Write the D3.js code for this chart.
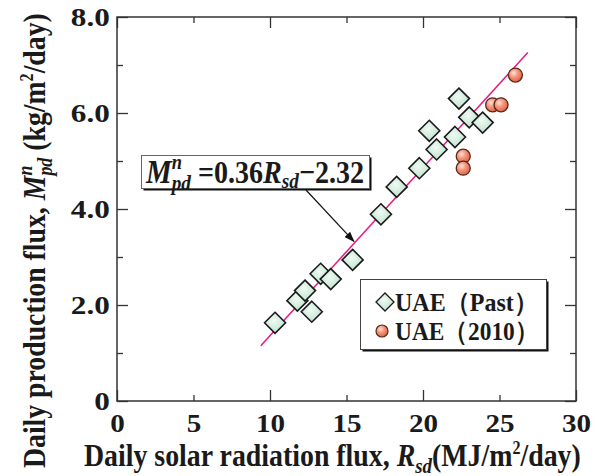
<!DOCTYPE html>
<html>
<head>
<meta charset="utf-8">
<script src="https://cdn.jsdelivr.net/npm/d3@7"></script>
<style>
  body { margin: 0; background: #fff; }
  text { font-family: "Liberation Serif", "Times New Roman", serif; font-weight: bold; fill: #1a1a1a; }
</style>
</head>
<body>
<script>
// past UAE observations (diamonds)
var pastRsd = [10.33, 11.79, 12.29, 12.73, 13.31, 13.97, 15.4, 17.25, 18.28, 19.76, 20.41, 20.89, 22.09, 22.35, 23.02, 23.9];
var pastMpd = [1.63, 2.09, 2.30, 1.86, 2.65, 2.54, 2.94, 3.89, 4.46, 4.85, 5.63, 5.24, 5.50, 6.30, 5.91, 5.80];
// UAE 2010 (circles)
var y2010Rsd = [22.63, 22.63, 24.55, 25.1, 26.04];
var y2010Mpd = [5.10, 4.85, 6.17, 6.17, 6.79];
// fitted line endpoints, as drawn
var fitRsd = [9.4, 26.85];
var fitMpd = [1.15, 7.26];
var xTicks = [0, 5, 10, 15, 20, 25, 30];
var yTicks = [0, 1, 2, 3, 4, 5, 6, 7, 8];
var yLabels = ["0", "", "2.0", "", "4.0", "", "6.0", "", "8.0"];
var legendNames = ["UAE\uFF08Past\uFF09", "UAE\uFF082010\uFF09"];

var width = 602, height = 476;
var svg = d3.select("body").append("svg")
    .attr("width", width)
    .attr("height", height);

var x = d3.scaleLinear().domain([0, 30]).range([117, 576]);
var y = d3.scaleLinear().domain([0, 8]).range([401, 17]);

var defs = svg.append("defs");
var gd = defs.append("radialGradient").attr("id", "gDia").attr("cx", "45%").attr("cy", "40%").attr("r", "65%");
gd.append("stop").attr("offset", "0%").attr("stop-color", "#f0faf4");
gd.append("stop").attr("offset", "100%").attr("stop-color", "#b9e1c9");
var gc = defs.append("radialGradient").attr("id", "gCir").attr("cx", "38%").attr("cy", "35%").attr("r", "70%");
gc.append("stop").attr("offset", "0%").attr("stop-color", "#fde3d8");
gc.append("stop").attr("offset", "45%").attr("stop-color", "#f39478");
gc.append("stop").attr("offset", "100%").attr("stop-color", "#dc5f44");
defs.append("marker").attr("id", "arrow")
    .attr("viewBox", "0 0 10 10").attr("refX", 9).attr("refY", 5)
    .attr("markerWidth", 9).attr("markerHeight", 9).attr("orient", "auto")
    .append("path").attr("d", "M0,1.5 L10,5 L0,8.5 Z").attr("fill", "#111");

// axes, ticks inward on all four sides
function styleAxis(g, minor) {
    g.select(".domain").remove();
    g.selectAll(".tick line").attr("stroke", "#333").attr("stroke-width", 1.3);
    g.selectAll(".tick").filter(function(d) { return minor(d); })
        .select("line").each(function() {
            var l = d3.select(this);
            if (l.attr("y2") !== null && +l.attr("y2") !== 0) l.attr("y2", +l.attr("y2") > 0 ? 6 : -6);
            if (l.attr("x2") !== null && +l.attr("x2") !== 0) l.attr("x2", +l.attr("x2") > 0 ? 6 : -6);
        });
    g.selectAll(".tick text").attr("font-size", 26).attr("fill", "#1a1a1a")
        .attr("font-family", "Liberation Serif").attr("font-weight", "bold");
}
var xMinor = function(d) { return d % 10 !== 0; };
var yMinor = function(d) { return d % 2 !== 0; };

var xAxis = svg.append("g").attr("transform", "translate(0," + y(0) + ")")
    .call(d3.axisBottom(x).tickValues(xTicks).tickSizeInner(-11).tickSizeOuter(0).tickPadding(13));
styleAxis(xAxis, xMinor);
xAxis.selectAll(".tick text").attr("transform", "scale(1.12,1)");

var xTop = svg.append("g").attr("transform", "translate(0," + y(8) + ")")
    .call(d3.axisTop(x).tickValues(xTicks).tickSizeInner(-11).tickSizeOuter(0).tickFormat(""));
styleAxis(xTop, xMinor);

var yAxis = svg.append("g").attr("transform", "translate(" + x(0) + ",0)")
    .call(d3.axisLeft(y).tickValues(yTicks).tickSizeInner(-11).tickSizeOuter(0).tickPadding(6)
        .tickFormat(function(d, i) { return yLabels[i]; }));
styleAxis(yAxis, yMinor);
yAxis.selectAll(".tick text").attr("transform", "scale(1.2,1)");

var yRight = svg.append("g").attr("transform", "translate(" + x(30) + ",0)")
    .call(d3.axisRight(y).tickValues(yTicks).tickSizeInner(-11).tickSizeOuter(0).tickFormat(""));
styleAxis(yRight, yMinor);

svg.append("rect")
    .attr("x", x(0)).attr("y", y(8))
    .attr("width", x(30) - x(0)).attr("height", y(0) - y(8))
    .attr("fill", "none").attr("stroke", "#333").attr("stroke-width", 1.5);

// rich text helper: runs of text with italic / size / shifts, then fit to a width
function richText(parent, runs, size) {
    var t = parent.append("text").attr("font-size", size);
    var prev = null;
    runs.forEach(function(r) {
        var ts = t.append("tspan").text(r.t)
            .attr("font-size", r.size || size)
            .attr("font-style", r.italic ? "italic" : "normal");
        if (r.dy) ts.attr("dy", r.dy);
        if (r.back && prev) ts.attr("dx", -prev.node().getComputedTextLength());
        prev = ts;
    });
    return t;
}
function fitWidth(t, target) {
    var w = t.node().getBBox().width;
    t.attr("transform", "scale(" + (target / w) + ",1)");
}

// x label
var xlab = svg.append("g").attr("transform", "translate(84,466)");
var xt = richText(xlab, [
    { t: "Daily solar radiation flux, " },
    { t: "R", italic: true },
    { t: "sd", italic: true, size: 21, dy: 7 },
    { t: "(MJ/m", dy: -7 },
    { t: "2", size: 18, dy: -12 },
    { t: "/day)", dy: 12 }
], 31);
fitWidth(xt, 497);

// y label
var ylab = svg.append("g").attr("transform", "translate(45,468) rotate(-90)");
var yt = richText(ylab, [
    { t: "Daily production flux, " },
    { t: "M", italic: true },
    { t: "n", italic: true, size: 20, dy: -13 },
    { t: "pd", italic: true, size: 20, dy: 20, back: true },
    { t: " (kg/m", dy: -7 },
    { t: "2", size: 18, dy: -12 },
    { t: "/day)", dy: 12 }
], 31);
fitWidth(yt, 455);

// fit line
svg.append("line")
    .attr("x1", x(fitRsd[0])).attr("y1", y(fitMpd[0]))
    .attr("x2", x(fitRsd[1])).attr("y2", y(fitMpd[1]))
    .attr("stroke", "#e8197f").attr("stroke-width", 1.5);

// points
var past = pastRsd.map(function(v, i) { return [v, pastMpd[i]]; });
var now = y2010Rsd.map(function(v, i) { return [v, y2010Mpd[i]]; });

function diamond(r) { return "M0," + (-r) + "L" + r + ",0L0," + r + "L" + (-r) + ",0Z"; }

svg.append("g").selectAll("path").data(past).enter().append("path")
    .attr("d", diamond(10.5))
    .attr("transform", function(d) { return "translate(" + x(d[0]) + "," + y(d[1]) + ")"; })
    .attr("fill", "url(#gDia)").attr("stroke", "#1a1a1a").attr("stroke-width", 1.6);

svg.append("g").selectAll("circle").data(now).enter().append("circle")
    .attr("cx", function(d) { return x(d[0]); })
    .attr("cy", function(d) { return y(d[1]); })
    .attr("r", 7)
    .attr("fill", "url(#gCir)").attr("stroke", "#5a271c").attr("stroke-width", 1.3);

// annotation box with equation
var ann = svg.append("g");
ann.append("rect").attr("x", 143.5).attr("y", 157.5).attr("width", 228).attr("height", 33).attr("fill", "#111");
ann.append("rect").attr("x", 141.5).attr("y", 155.5).attr("width", 228).attr("height", 33)
    .attr("fill", "#fff").attr("stroke", "#666").attr("stroke-width", 1);
var eqg = ann.append("g").attr("transform", "translate(146,183)");
var eq = richText(eqg, [
    { t: "M", italic: true, size: 33 },
    { t: "n", italic: true, size: 21, dy: -14 },
    { t: "pd", italic: true, size: 22, dy: 21, back: true },
    { t: " =0.36", dy: -7 },
    { t: "R", italic: true },
    { t: "sd", italic: true, size: 22, dy: 5 },
    { t: "\u22122.32", dy: -5 }
], 32);
fitWidth(eq, 219);

var annX = 15.55;
var annY = fitMpd[0] + (annX - fitRsd[0]) * (fitMpd[1] - fitMpd[0]) / (fitRsd[1] - fitRsd[0]);
ann.append("line")
    .attr("x1", 306).attr("y1", 190)
    .attr("x2", x(annX) - 1).attr("y2", y(annY) - 1)
    .attr("stroke", "#111").attr("stroke-width", 1.2)
    .attr("marker-end", "url(#arrow)");

// legend
var leg = svg.append("g");
leg.append("rect").attr("x", 362.5).attr("y", 281.5).attr("width", 186).attr("height", 70).attr("fill", "#111");
leg.append("rect").attr("x", 360.5).attr("y", 279.5).attr("width", 186).attr("height", 70)
    .attr("fill", "#fff").attr("stroke", "#444").attr("stroke-width", 1);
leg.append("path").attr("d", diamond(9))
    .attr("transform", "translate(385,302)")
    .attr("fill", "url(#gDia)").attr("stroke", "#1a1a1a").attr("stroke-width", 1.3);
leg.append("circle").attr("cx", 382).attr("cy", 331).attr("r", 6)
    .attr("fill", "url(#gCir)").attr("stroke", "#5a271c").attr("stroke-width", 1.2);
legendNames.forEach(function(name, i) {
    var lg = leg.append("g").attr("transform", "translate(395," + (311 + i * 29) + ")");
    var lt = lg.append("text").attr("font-size", 26).text(name);
    fitWidth(lt, 143);
});
</script>
</body>
</html>
